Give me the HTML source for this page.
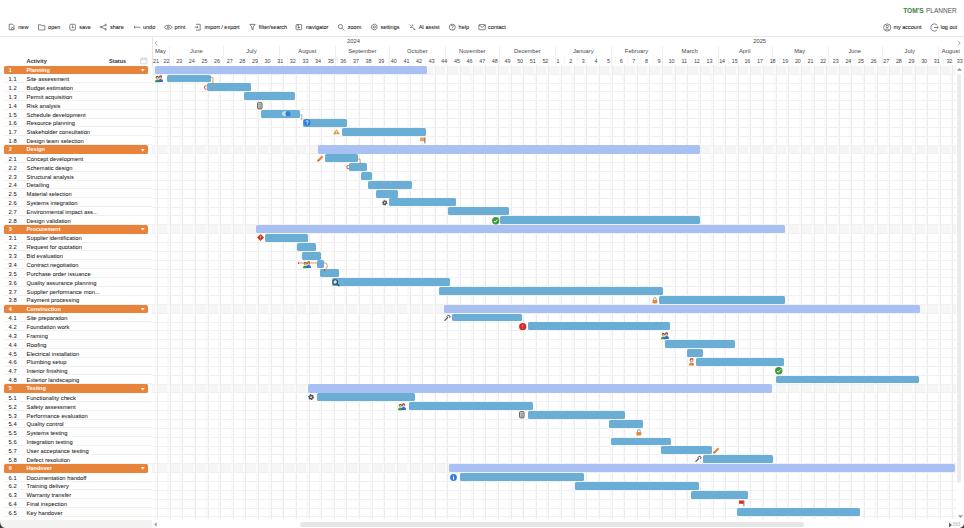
<!DOCTYPE html><html><head><meta charset="utf-8"><style>
*{box-sizing:border-box}
html,body{margin:0;padding:0}
body{width:964px;height:528px;overflow:hidden;background:#fff;position:relative;font-family:'Liberation Sans',sans-serif;color:#333}
.a{position:absolute}
.t{position:absolute;white-space:nowrap}
.tb{font-size:5.5px;color:#1a1a1a;-webkit-text-stroke:0.07px #1a1a1a}
.ln{position:absolute;background:#e9e9e9}
.lt{position:absolute;z-index:2;left:0;width:152px;height:8.853px;line-height:8.853px;font-size:5.8px;color:#1f1f1f;padding-top:0.7px;-webkit-text-stroke:0.06px #1f1f1f}
.num{position:absolute;left:8.6px}
.nm{position:absolute;left:26.6px;white-space:nowrap}
.grp{position:absolute;left:3.8px;width:144.7px;height:8.6px;background:#e8833a;border-radius:1.6px;color:#fff;font-weight:bold;font-size:5.5px;line-height:8.6px}
.sb{position:absolute;height:8.4px;background:#a8c1f2;border-radius:1.6px}
.br{position:absolute;height:7.9px;background:#6aadd5;border-radius:1.5px}
.wk{position:absolute;top:55.6px;height:10px;line-height:10px;font-size:5.4px;color:#444;text-align:center}
.mo{position:absolute;top:46.6px;height:9px;line-height:9px;font-size:5.8px;color:#474747;text-align:center;white-space:nowrap}
.yr{position:absolute;top:37px;height:9px;line-height:9px;font-size:5.8px;color:#474747;text-align:center}
</style></head><body>

<div class="t" style="left:903.2px;top:6.8px;font-size:6.6px;line-height:7px;font-weight:bold;color:#3f7f3f;letter-spacing:0px">TOM'S</div>
<div class="t" style="left:926px;top:6.8px;font-size:6.5px;line-height:7px;color:#555">PLANNER</div>
<div class="t tb" style="left:18.3px;top:23.1px;line-height:8px">new</div>
<div class="t tb" style="left:48.1px;top:23.1px;line-height:8px">open</div>
<div class="t tb" style="left:79.3px;top:23.1px;line-height:8px">save</div>
<div class="t tb" style="left:110.0px;top:23.1px;line-height:8px">share</div>
<div class="t tb" style="left:143.0px;top:23.1px;line-height:8px">undo</div>
<div class="t tb" style="left:174.6px;top:23.1px;line-height:8px">print</div>
<div class="t tb" style="left:204.5px;top:23.1px;line-height:8px">import / export</div>
<div class="t tb" style="left:258.7px;top:23.1px;line-height:8px">filter/search</div>
<div class="t tb" style="left:305.8px;top:23.1px;line-height:8px">navigator</div>
<div class="t tb" style="left:347.8px;top:23.1px;line-height:8px">zoom</div>
<div class="t tb" style="left:380.5px;top:23.1px;line-height:8px">settings</div>
<div class="t tb" style="left:418.7px;top:23.1px;line-height:8px">AI assist</div>
<div class="t tb" style="left:458.6px;top:23.1px;line-height:8px">help</div>
<div class="t tb" style="left:488.1px;top:23.1px;line-height:8px">contact</div>
<div class="t tb" style="left:893.4px;top:23.1px;line-height:8px">my account</div>
<div class="t tb" style="left:940.6px;top:23.1px;line-height:8px">log out</div>
<svg class="a" style="left:0;top:0" width="964" height="36" viewBox="0 0 964 36" fill="none" stroke="#555" stroke-width="0.72">
<path d="M9.2 24.2h3.4l1.4 1.4v4.2h-4.8z"/><circle cx="12.4" cy="28.4" r="1"/>
<path d="M38.5 24.8h2.4l0.8 0.9h3.2v4.2h-6.4z"/>
<rect x="69.8" y="24.3" width="5.6" height="5.8" rx="1"/><path d="M72.6 25.3v2.6M71.6 27l1 1 1-1"/>
<circle cx="101" cy="27.1" r="0.8"/><circle cx="105.6" cy="25" r="0.8"/><circle cx="105.6" cy="29.3" r="0.8"/><path d="M101.7 26.7l3.2-1.4M101.7 27.5l3.2 1.4"/>
<path d="M134 27.2h4.8c1 0 1.4 0.6 1.4 1.2M134 27.2l1.2-1.1M134 27.2l1.2 1.1"/>
<path d="M164.4 27.2c1.6-2.6 6.2-2.6 7.8 0c-1.6 2.6-6.2 2.6-7.8 0z"/><circle cx="168.3" cy="27.2" r="1"/>
<path d="M196 24.3h4.2v5.8H196M194.8 27.2h3.2M197 26.1l1.1 1.1-1.1 1.1"/>
<path d="M249.8 24.4h5.4l-2.1 2.6v2.9l-1.2-0.6v-2.3z"/>
<rect x="296" y="24.5" width="5.6" height="5.2" rx="0.8"/><circle cx="298.6" cy="27.4" r="0.7" fill="#666"/><path d="M296.6 26.2c0.6-0.8 1.6-1 2.2-0.6"/>
<circle cx="340.4" cy="26.6" r="2.1"/><path d="M342 28.2l2.2 2.2"/>
<path d="M374.3 24l2.6 1.5v3l-2.6 1.5-2.6-1.5v-3z"/><circle cx="374.3" cy="27" r="1.1"/>
<path d="M409.6 24.4l5.8 5.8M410 27.6l2 0M412.5 24.6l0.2 1.5M413.6 29.4l1.6 0"/>
<circle cx="452.3" cy="27.2" r="3"/><path d="M451.3 26.2c0-1.4 2.2-1.4 2.1 0c0 0.8-1 0.8-1 1.8"/><circle cx="452.4" cy="29.2" r="0.2"/>
<rect x="478.9" y="24.6" width="6.4" height="5.1" rx="0.5"/><path d="M478.9 25l3.2 2.4 3.2-2.4"/>
<circle cx="887.2" cy="27.5" r="3.6"/><circle cx="887.2" cy="26.5" r="1.2"/><path d="M885 30.2c0.6-1.6 3.8-1.6 4.4 0"/>
<path d="M937.2 25.3a3.6 3.6 0 1 0 0 4.4"/><path d="M934 27.5h4.2M937 26.4l1.2 1.1-1.2 1.1"/>
</svg>
<div class="ln" style="left:0;top:35.6px;width:964px;height:0.8px;background:#e6e6e6"></div>
<div class="t" style="left:26.4px;top:57px;font-size:5.65px;line-height:8px;font-weight:bold;color:#333">Activity</div>
<div class="t" style="left:109.1px;top:57px;font-size:5.6px;line-height:8px;font-weight:bold;color:#333">Status</div>
<svg class="a" style="left:140px;top:56.8px" width="8" height="8" viewBox="0 0 8 8" fill="none" stroke="#bbb" stroke-width="0.6"><rect x="0.7" y="1.2" width="6.2" height="5.6" rx="0.8"/><path d="M0.7 2.8h6.2M2.4 0.5v1.4M5.2 0.5v1.4"/></svg>
<div class="grp" style="top:65.60px"><span style="position:absolute;left:4.9px">1</span><span style="position:absolute;left:22.8px">Planning</span><svg style="position:absolute;left:137.6px;top:3.4px" width="4" height="3" viewBox="0 0 4 3"><path d="M0 0h3.6L1.8 2.6z" fill="#fff"/></svg></div>
<div class="lt" style="top:74.45px"><span class="num">1.1</span><span class="nm">Site assessment</span></div>
<div class="ln" style="left:4px;top:82.21px;width:148px;height:0.7px;background:#f1f1f1"></div>
<div class="lt" style="top:83.31px"><span class="num">1.2</span><span class="nm">Budget estimation</span></div>
<div class="ln" style="left:4px;top:91.06px;width:148px;height:0.7px;background:#f1f1f1"></div>
<div class="lt" style="top:92.16px"><span class="num">1.3</span><span class="nm">Permit acquisition</span></div>
<div class="ln" style="left:4px;top:99.91px;width:148px;height:0.7px;background:#f1f1f1"></div>
<div class="lt" style="top:101.01px"><span class="num">1.4</span><span class="nm">Risk analysis</span></div>
<div class="ln" style="left:4px;top:108.77px;width:148px;height:0.7px;background:#f1f1f1"></div>
<div class="lt" style="top:109.86px"><span class="num">1.5</span><span class="nm">Schedule development</span></div>
<div class="ln" style="left:4px;top:117.62px;width:148px;height:0.7px;background:#f1f1f1"></div>
<div class="lt" style="top:118.72px"><span class="num">1.6</span><span class="nm">Resource planning</span></div>
<div class="ln" style="left:4px;top:126.47px;width:148px;height:0.7px;background:#f1f1f1"></div>
<div class="lt" style="top:127.57px"><span class="num">1.7</span><span class="nm">Stakeholder consultation</span></div>
<div class="ln" style="left:4px;top:135.32px;width:148px;height:0.7px;background:#f1f1f1"></div>
<div class="lt" style="top:136.42px"><span class="num">1.8</span><span class="nm">Design team selection</span></div>
<div class="ln" style="left:4px;top:144.18px;width:148px;height:0.7px;background:#f1f1f1"></div>
<div class="grp" style="top:145.28px"><span style="position:absolute;left:4.9px">2</span><span style="position:absolute;left:22.8px">Design</span><svg style="position:absolute;left:137.6px;top:3.4px" width="4" height="3" viewBox="0 0 4 3"><path d="M0 0h3.6L1.8 2.6z" fill="#fff"/></svg></div>
<div class="lt" style="top:154.13px"><span class="num">2.1</span><span class="nm">Concept development</span></div>
<div class="ln" style="left:4px;top:161.88px;width:148px;height:0.7px;background:#f1f1f1"></div>
<div class="lt" style="top:162.98px"><span class="num">2.2</span><span class="nm">Schematic design</span></div>
<div class="ln" style="left:4px;top:170.74px;width:148px;height:0.7px;background:#f1f1f1"></div>
<div class="lt" style="top:171.84px"><span class="num">2.3</span><span class="nm">Structural analysis</span></div>
<div class="ln" style="left:4px;top:179.59px;width:148px;height:0.7px;background:#f1f1f1"></div>
<div class="lt" style="top:180.69px"><span class="num">2.4</span><span class="nm">Detailing</span></div>
<div class="ln" style="left:4px;top:188.44px;width:148px;height:0.7px;background:#f1f1f1"></div>
<div class="lt" style="top:189.54px"><span class="num">2.5</span><span class="nm">Material selection</span></div>
<div class="ln" style="left:4px;top:197.29px;width:148px;height:0.7px;background:#f1f1f1"></div>
<div class="lt" style="top:198.39px"><span class="num">2.6</span><span class="nm">Systems integration</span></div>
<div class="ln" style="left:4px;top:206.15px;width:148px;height:0.7px;background:#f1f1f1"></div>
<div class="lt" style="top:207.25px"><span class="num">2.7</span><span class="nm">Environmental impact ass...</span></div>
<div class="ln" style="left:4px;top:215.00px;width:148px;height:0.7px;background:#f1f1f1"></div>
<div class="lt" style="top:216.10px"><span class="num">2.8</span><span class="nm">Design validation</span></div>
<div class="ln" style="left:4px;top:223.85px;width:148px;height:0.7px;background:#f1f1f1"></div>
<div class="grp" style="top:224.95px"><span style="position:absolute;left:4.9px">3</span><span style="position:absolute;left:22.8px">Procurement</span><svg style="position:absolute;left:137.6px;top:3.4px" width="4" height="3" viewBox="0 0 4 3"><path d="M0 0h3.6L1.8 2.6z" fill="#fff"/></svg></div>
<div class="lt" style="top:233.81px"><span class="num">3.1</span><span class="nm">Supplier identification</span></div>
<div class="ln" style="left:4px;top:241.56px;width:148px;height:0.7px;background:#f1f1f1"></div>
<div class="lt" style="top:242.66px"><span class="num">3.2</span><span class="nm">Request for quotation</span></div>
<div class="ln" style="left:4px;top:250.41px;width:148px;height:0.7px;background:#f1f1f1"></div>
<div class="lt" style="top:251.51px"><span class="num">3.3</span><span class="nm">Bid evaluation</span></div>
<div class="ln" style="left:4px;top:259.27px;width:148px;height:0.7px;background:#f1f1f1"></div>
<div class="lt" style="top:260.37px"><span class="num">3.4</span><span class="nm">Contract negotiation</span></div>
<div class="ln" style="left:4px;top:268.12px;width:148px;height:0.7px;background:#f1f1f1"></div>
<div class="lt" style="top:269.22px"><span class="num">3.5</span><span class="nm">Purchase order issuance</span></div>
<div class="ln" style="left:4px;top:276.97px;width:148px;height:0.7px;background:#f1f1f1"></div>
<div class="lt" style="top:278.07px"><span class="num">3.6</span><span class="nm">Quality assurance planning</span></div>
<div class="ln" style="left:4px;top:285.82px;width:148px;height:0.7px;background:#f1f1f1"></div>
<div class="lt" style="top:286.92px"><span class="num">3.7</span><span class="nm">Supplier performance mon...</span></div>
<div class="ln" style="left:4px;top:294.68px;width:148px;height:0.7px;background:#f1f1f1"></div>
<div class="lt" style="top:295.78px"><span class="num">3.8</span><span class="nm">Payment processing</span></div>
<div class="ln" style="left:4px;top:303.53px;width:148px;height:0.7px;background:#f1f1f1"></div>
<div class="grp" style="top:304.63px"><span style="position:absolute;left:4.9px">4</span><span style="position:absolute;left:22.8px">Construction</span><svg style="position:absolute;left:137.6px;top:3.4px" width="4" height="3" viewBox="0 0 4 3"><path d="M0 0h3.6L1.8 2.6z" fill="#fff"/></svg></div>
<div class="lt" style="top:313.48px"><span class="num">4.1</span><span class="nm">Site preparation</span></div>
<div class="ln" style="left:4px;top:321.24px;width:148px;height:0.7px;background:#f1f1f1"></div>
<div class="lt" style="top:322.34px"><span class="num">4.2</span><span class="nm">Foundation work</span></div>
<div class="ln" style="left:4px;top:330.09px;width:148px;height:0.7px;background:#f1f1f1"></div>
<div class="lt" style="top:331.19px"><span class="num">4.3</span><span class="nm">Framing</span></div>
<div class="ln" style="left:4px;top:338.94px;width:148px;height:0.7px;background:#f1f1f1"></div>
<div class="lt" style="top:340.04px"><span class="num">4.4</span><span class="nm">Roofing</span></div>
<div class="ln" style="left:4px;top:347.80px;width:148px;height:0.7px;background:#f1f1f1"></div>
<div class="lt" style="top:348.90px"><span class="num">4.5</span><span class="nm">Electrical installation</span></div>
<div class="ln" style="left:4px;top:356.65px;width:148px;height:0.7px;background:#f1f1f1"></div>
<div class="lt" style="top:357.75px"><span class="num">4.6</span><span class="nm">Plumbing setup</span></div>
<div class="ln" style="left:4px;top:365.50px;width:148px;height:0.7px;background:#f1f1f1"></div>
<div class="lt" style="top:366.60px"><span class="num">4.7</span><span class="nm">Interior finishing</span></div>
<div class="ln" style="left:4px;top:374.35px;width:148px;height:0.7px;background:#f1f1f1"></div>
<div class="lt" style="top:375.46px"><span class="num">4.8</span><span class="nm">Exterior landscaping</span></div>
<div class="ln" style="left:4px;top:383.21px;width:148px;height:0.7px;background:#f1f1f1"></div>
<div class="grp" style="top:384.31px"><span style="position:absolute;left:4.9px">5</span><span style="position:absolute;left:22.8px">Testing</span><svg style="position:absolute;left:137.6px;top:3.4px" width="4" height="3" viewBox="0 0 4 3"><path d="M0 0h3.6L1.8 2.6z" fill="#fff"/></svg></div>
<div class="lt" style="top:393.16px"><span class="num">5.1</span><span class="nm">Functionality check</span></div>
<div class="ln" style="left:4px;top:400.91px;width:148px;height:0.7px;background:#f1f1f1"></div>
<div class="lt" style="top:402.01px"><span class="num">5.2</span><span class="nm">Safety assessment</span></div>
<div class="ln" style="left:4px;top:409.77px;width:148px;height:0.7px;background:#f1f1f1"></div>
<div class="lt" style="top:410.87px"><span class="num">5.3</span><span class="nm">Performance evaluation</span></div>
<div class="ln" style="left:4px;top:418.62px;width:148px;height:0.7px;background:#f1f1f1"></div>
<div class="lt" style="top:419.72px"><span class="num">5.4</span><span class="nm">Quality control</span></div>
<div class="ln" style="left:4px;top:427.47px;width:148px;height:0.7px;background:#f1f1f1"></div>
<div class="lt" style="top:428.57px"><span class="num">5.5</span><span class="nm">Systems testing</span></div>
<div class="ln" style="left:4px;top:436.33px;width:148px;height:0.7px;background:#f1f1f1"></div>
<div class="lt" style="top:437.43px"><span class="num">5.6</span><span class="nm">Integration testing</span></div>
<div class="ln" style="left:4px;top:445.18px;width:148px;height:0.7px;background:#f1f1f1"></div>
<div class="lt" style="top:446.28px"><span class="num">5.7</span><span class="nm">User acceptance testing</span></div>
<div class="ln" style="left:4px;top:454.03px;width:148px;height:0.7px;background:#f1f1f1"></div>
<div class="lt" style="top:455.13px"><span class="num">5.8</span><span class="nm">Defect resolution</span></div>
<div class="ln" style="left:4px;top:462.88px;width:148px;height:0.7px;background:#f1f1f1"></div>
<div class="grp" style="top:463.99px"><span style="position:absolute;left:4.9px">6</span><span style="position:absolute;left:22.8px">Handover</span><svg style="position:absolute;left:137.6px;top:3.4px" width="4" height="3" viewBox="0 0 4 3"><path d="M0 0h3.6L1.8 2.6z" fill="#fff"/></svg></div>
<div class="lt" style="top:472.84px"><span class="num">6.1</span><span class="nm">Documentation handoff</span></div>
<div class="ln" style="left:4px;top:480.59px;width:148px;height:0.7px;background:#f1f1f1"></div>
<div class="lt" style="top:481.69px"><span class="num">6.2</span><span class="nm">Training delivery</span></div>
<div class="ln" style="left:4px;top:489.44px;width:148px;height:0.7px;background:#f1f1f1"></div>
<div class="lt" style="top:490.54px"><span class="num">6.3</span><span class="nm">Warranty transfer</span></div>
<div class="ln" style="left:4px;top:498.30px;width:148px;height:0.7px;background:#f1f1f1"></div>
<div class="lt" style="top:499.40px"><span class="num">6.4</span><span class="nm">Final inspection</span></div>
<div class="ln" style="left:4px;top:507.15px;width:148px;height:0.7px;background:#f1f1f1"></div>
<div class="lt" style="top:508.25px"><span class="num">6.5</span><span class="nm">Key handover</span></div>
<div class="ln" style="left:4px;top:516.00px;width:148px;height:0.7px;background:#f1f1f1"></div>
<div class="a" style="left:151.6px;top:65.60px;width:804.4px;height:8.853px;background:#f5f5f5"></div>
<div class="a" style="left:151.6px;top:145.28px;width:804.4px;height:8.853px;background:#f5f5f5"></div>
<div class="a" style="left:151.6px;top:224.95px;width:804.4px;height:8.853px;background:#f5f5f5"></div>
<div class="a" style="left:151.6px;top:304.63px;width:804.4px;height:8.853px;background:#f5f5f5"></div>
<div class="a" style="left:151.6px;top:384.31px;width:804.4px;height:8.853px;background:#f5f5f5"></div>
<div class="a" style="left:151.6px;top:463.99px;width:804.4px;height:8.853px;background:#f5f5f5"></div>
<div class="a" style="left:0;top:0;width:964px;height:528px;">
<div class="a" style="left:154.82px;top:65.19999999999999px;width:2.60px;height:453.80px;background:#fafafa"></div>
<div class="a" style="left:157.02px;top:65.19999999999999px;width:1.1px;height:453.80px;background:#ececec"></div>
<div class="a" style="left:167.45px;top:65.19999999999999px;width:2.60px;height:453.80px;background:#fafafa"></div>
<div class="a" style="left:169.65px;top:65.19999999999999px;width:1.1px;height:453.80px;background:#ececec"></div>
<div class="a" style="left:180.07px;top:65.19999999999999px;width:2.60px;height:453.80px;background:#fafafa"></div>
<div class="a" style="left:182.27px;top:65.19999999999999px;width:1.1px;height:453.80px;background:#ececec"></div>
<div class="a" style="left:192.70px;top:65.19999999999999px;width:2.60px;height:453.80px;background:#fafafa"></div>
<div class="a" style="left:194.90px;top:65.19999999999999px;width:1.1px;height:453.80px;background:#ececec"></div>
<div class="a" style="left:205.32px;top:65.19999999999999px;width:2.60px;height:453.80px;background:#fafafa"></div>
<div class="a" style="left:207.52px;top:65.19999999999999px;width:1.1px;height:453.80px;background:#ececec"></div>
<div class="a" style="left:217.95px;top:65.19999999999999px;width:2.60px;height:453.80px;background:#fafafa"></div>
<div class="a" style="left:220.15px;top:65.19999999999999px;width:1.1px;height:453.80px;background:#ececec"></div>
<div class="a" style="left:230.57px;top:65.19999999999999px;width:2.60px;height:453.80px;background:#fafafa"></div>
<div class="a" style="left:232.77px;top:65.19999999999999px;width:1.1px;height:453.80px;background:#ececec"></div>
<div class="a" style="left:243.20px;top:65.19999999999999px;width:2.60px;height:453.80px;background:#fafafa"></div>
<div class="a" style="left:245.40px;top:65.19999999999999px;width:1.1px;height:453.80px;background:#ececec"></div>
<div class="a" style="left:255.83px;top:65.19999999999999px;width:2.60px;height:453.80px;background:#fafafa"></div>
<div class="a" style="left:258.03px;top:65.19999999999999px;width:1.1px;height:453.80px;background:#ececec"></div>
<div class="a" style="left:268.45px;top:65.19999999999999px;width:2.60px;height:453.80px;background:#fafafa"></div>
<div class="a" style="left:270.65px;top:65.19999999999999px;width:1.1px;height:453.80px;background:#ececec"></div>
<div class="a" style="left:281.07px;top:65.19999999999999px;width:2.60px;height:453.80px;background:#fafafa"></div>
<div class="a" style="left:283.28px;top:65.19999999999999px;width:1.1px;height:453.80px;background:#ececec"></div>
<div class="a" style="left:293.70px;top:65.19999999999999px;width:2.60px;height:453.80px;background:#fafafa"></div>
<div class="a" style="left:295.90px;top:65.19999999999999px;width:1.1px;height:453.80px;background:#ececec"></div>
<div class="a" style="left:306.32px;top:65.19999999999999px;width:2.60px;height:453.80px;background:#fafafa"></div>
<div class="a" style="left:308.53px;top:65.19999999999999px;width:1.1px;height:453.80px;background:#ececec"></div>
<div class="a" style="left:318.95px;top:65.19999999999999px;width:2.60px;height:453.80px;background:#fafafa"></div>
<div class="a" style="left:321.15px;top:65.19999999999999px;width:1.1px;height:453.80px;background:#ececec"></div>
<div class="a" style="left:331.57px;top:65.19999999999999px;width:2.60px;height:453.80px;background:#fafafa"></div>
<div class="a" style="left:333.78px;top:65.19999999999999px;width:1.1px;height:453.80px;background:#ececec"></div>
<div class="a" style="left:344.20px;top:65.19999999999999px;width:2.60px;height:453.80px;background:#fafafa"></div>
<div class="a" style="left:346.40px;top:65.19999999999999px;width:1.1px;height:453.80px;background:#ececec"></div>
<div class="a" style="left:356.82px;top:65.19999999999999px;width:2.60px;height:453.80px;background:#fafafa"></div>
<div class="a" style="left:359.03px;top:65.19999999999999px;width:1.1px;height:453.80px;background:#ececec"></div>
<div class="a" style="left:369.45px;top:65.19999999999999px;width:2.60px;height:453.80px;background:#fafafa"></div>
<div class="a" style="left:371.65px;top:65.19999999999999px;width:1.1px;height:453.80px;background:#ececec"></div>
<div class="a" style="left:382.07px;top:65.19999999999999px;width:2.60px;height:453.80px;background:#fafafa"></div>
<div class="a" style="left:384.28px;top:65.19999999999999px;width:1.1px;height:453.80px;background:#ececec"></div>
<div class="a" style="left:394.70px;top:65.19999999999999px;width:2.60px;height:453.80px;background:#fafafa"></div>
<div class="a" style="left:396.90px;top:65.19999999999999px;width:1.1px;height:453.80px;background:#ececec"></div>
<div class="a" style="left:407.32px;top:65.19999999999999px;width:2.60px;height:453.80px;background:#fafafa"></div>
<div class="a" style="left:409.53px;top:65.19999999999999px;width:1.1px;height:453.80px;background:#ececec"></div>
<div class="a" style="left:419.95px;top:65.19999999999999px;width:2.60px;height:453.80px;background:#fafafa"></div>
<div class="a" style="left:422.15px;top:65.19999999999999px;width:1.1px;height:453.80px;background:#ececec"></div>
<div class="a" style="left:432.57px;top:65.19999999999999px;width:2.60px;height:453.80px;background:#fafafa"></div>
<div class="a" style="left:434.78px;top:65.19999999999999px;width:1.1px;height:453.80px;background:#ececec"></div>
<div class="a" style="left:445.20px;top:65.19999999999999px;width:2.60px;height:453.80px;background:#fafafa"></div>
<div class="a" style="left:447.40px;top:65.19999999999999px;width:1.1px;height:453.80px;background:#ececec"></div>
<div class="a" style="left:457.82px;top:65.19999999999999px;width:2.60px;height:453.80px;background:#fafafa"></div>
<div class="a" style="left:460.03px;top:65.19999999999999px;width:1.1px;height:453.80px;background:#ececec"></div>
<div class="a" style="left:470.45px;top:65.19999999999999px;width:2.60px;height:453.80px;background:#fafafa"></div>
<div class="a" style="left:472.65px;top:65.19999999999999px;width:1.1px;height:453.80px;background:#ececec"></div>
<div class="a" style="left:483.07px;top:65.19999999999999px;width:2.60px;height:453.80px;background:#fafafa"></div>
<div class="a" style="left:485.28px;top:65.19999999999999px;width:1.1px;height:453.80px;background:#ececec"></div>
<div class="a" style="left:495.70px;top:65.19999999999999px;width:2.60px;height:453.80px;background:#fafafa"></div>
<div class="a" style="left:497.90px;top:65.19999999999999px;width:1.1px;height:453.80px;background:#ececec"></div>
<div class="a" style="left:508.33px;top:65.19999999999999px;width:2.60px;height:453.80px;background:#fafafa"></div>
<div class="a" style="left:510.53px;top:65.19999999999999px;width:1.1px;height:453.80px;background:#ececec"></div>
<div class="a" style="left:520.95px;top:65.19999999999999px;width:2.60px;height:453.80px;background:#fafafa"></div>
<div class="a" style="left:523.15px;top:65.19999999999999px;width:1.1px;height:453.80px;background:#ececec"></div>
<div class="a" style="left:533.58px;top:65.19999999999999px;width:2.60px;height:453.80px;background:#fafafa"></div>
<div class="a" style="left:535.78px;top:65.19999999999999px;width:1.1px;height:453.80px;background:#ececec"></div>
<div class="a" style="left:546.20px;top:65.19999999999999px;width:2.60px;height:453.80px;background:#fafafa"></div>
<div class="a" style="left:548.40px;top:65.19999999999999px;width:1.1px;height:453.80px;background:#ececec"></div>
<div class="a" style="left:558.83px;top:65.19999999999999px;width:2.60px;height:453.80px;background:#fafafa"></div>
<div class="a" style="left:561.03px;top:65.19999999999999px;width:1.1px;height:453.80px;background:#ececec"></div>
<div class="a" style="left:571.45px;top:65.19999999999999px;width:2.60px;height:453.80px;background:#fafafa"></div>
<div class="a" style="left:573.65px;top:65.19999999999999px;width:1.1px;height:453.80px;background:#ececec"></div>
<div class="a" style="left:584.08px;top:65.19999999999999px;width:2.60px;height:453.80px;background:#fafafa"></div>
<div class="a" style="left:586.28px;top:65.19999999999999px;width:1.1px;height:453.80px;background:#ececec"></div>
<div class="a" style="left:596.70px;top:65.19999999999999px;width:2.60px;height:453.80px;background:#fafafa"></div>
<div class="a" style="left:598.90px;top:65.19999999999999px;width:1.1px;height:453.80px;background:#ececec"></div>
<div class="a" style="left:609.33px;top:65.19999999999999px;width:2.60px;height:453.80px;background:#fafafa"></div>
<div class="a" style="left:611.53px;top:65.19999999999999px;width:1.1px;height:453.80px;background:#ececec"></div>
<div class="a" style="left:621.95px;top:65.19999999999999px;width:2.60px;height:453.80px;background:#fafafa"></div>
<div class="a" style="left:624.15px;top:65.19999999999999px;width:1.1px;height:453.80px;background:#ececec"></div>
<div class="a" style="left:634.58px;top:65.19999999999999px;width:2.60px;height:453.80px;background:#fafafa"></div>
<div class="a" style="left:636.78px;top:65.19999999999999px;width:1.1px;height:453.80px;background:#ececec"></div>
<div class="a" style="left:647.20px;top:65.19999999999999px;width:2.60px;height:453.80px;background:#fafafa"></div>
<div class="a" style="left:649.40px;top:65.19999999999999px;width:1.1px;height:453.80px;background:#ececec"></div>
<div class="a" style="left:659.83px;top:65.19999999999999px;width:2.60px;height:453.80px;background:#fafafa"></div>
<div class="a" style="left:662.03px;top:65.19999999999999px;width:1.1px;height:453.80px;background:#ececec"></div>
<div class="a" style="left:672.45px;top:65.19999999999999px;width:2.60px;height:453.80px;background:#fafafa"></div>
<div class="a" style="left:674.65px;top:65.19999999999999px;width:1.1px;height:453.80px;background:#ececec"></div>
<div class="a" style="left:685.08px;top:65.19999999999999px;width:2.60px;height:453.80px;background:#fafafa"></div>
<div class="a" style="left:687.28px;top:65.19999999999999px;width:1.1px;height:453.80px;background:#ececec"></div>
<div class="a" style="left:697.70px;top:65.19999999999999px;width:2.60px;height:453.80px;background:#fafafa"></div>
<div class="a" style="left:699.90px;top:65.19999999999999px;width:1.1px;height:453.80px;background:#ececec"></div>
<div class="a" style="left:710.33px;top:65.19999999999999px;width:2.60px;height:453.80px;background:#fafafa"></div>
<div class="a" style="left:712.53px;top:65.19999999999999px;width:1.1px;height:453.80px;background:#ececec"></div>
<div class="a" style="left:722.95px;top:65.19999999999999px;width:2.60px;height:453.80px;background:#fafafa"></div>
<div class="a" style="left:725.15px;top:65.19999999999999px;width:1.1px;height:453.80px;background:#ececec"></div>
<div class="a" style="left:735.58px;top:65.19999999999999px;width:2.60px;height:453.80px;background:#fafafa"></div>
<div class="a" style="left:737.78px;top:65.19999999999999px;width:1.1px;height:453.80px;background:#ececec"></div>
<div class="a" style="left:748.20px;top:65.19999999999999px;width:2.60px;height:453.80px;background:#fafafa"></div>
<div class="a" style="left:750.40px;top:65.19999999999999px;width:1.1px;height:453.80px;background:#ececec"></div>
<div class="a" style="left:760.83px;top:65.19999999999999px;width:2.60px;height:453.80px;background:#fafafa"></div>
<div class="a" style="left:763.03px;top:65.19999999999999px;width:1.1px;height:453.80px;background:#ececec"></div>
<div class="a" style="left:773.45px;top:65.19999999999999px;width:2.60px;height:453.80px;background:#fafafa"></div>
<div class="a" style="left:775.65px;top:65.19999999999999px;width:1.1px;height:453.80px;background:#ececec"></div>
<div class="a" style="left:786.08px;top:65.19999999999999px;width:2.60px;height:453.80px;background:#fafafa"></div>
<div class="a" style="left:788.28px;top:65.19999999999999px;width:1.1px;height:453.80px;background:#ececec"></div>
<div class="a" style="left:798.70px;top:65.19999999999999px;width:2.60px;height:453.80px;background:#fafafa"></div>
<div class="a" style="left:800.90px;top:65.19999999999999px;width:1.1px;height:453.80px;background:#ececec"></div>
<div class="a" style="left:811.33px;top:65.19999999999999px;width:2.60px;height:453.80px;background:#fafafa"></div>
<div class="a" style="left:813.53px;top:65.19999999999999px;width:1.1px;height:453.80px;background:#ececec"></div>
<div class="a" style="left:823.95px;top:65.19999999999999px;width:2.60px;height:453.80px;background:#fafafa"></div>
<div class="a" style="left:826.15px;top:65.19999999999999px;width:1.1px;height:453.80px;background:#ececec"></div>
<div class="a" style="left:836.58px;top:65.19999999999999px;width:2.60px;height:453.80px;background:#fafafa"></div>
<div class="a" style="left:838.78px;top:65.19999999999999px;width:1.1px;height:453.80px;background:#ececec"></div>
<div class="a" style="left:849.20px;top:65.19999999999999px;width:2.60px;height:453.80px;background:#fafafa"></div>
<div class="a" style="left:851.40px;top:65.19999999999999px;width:1.1px;height:453.80px;background:#ececec"></div>
<div class="a" style="left:861.83px;top:65.19999999999999px;width:2.60px;height:453.80px;background:#fafafa"></div>
<div class="a" style="left:864.03px;top:65.19999999999999px;width:1.1px;height:453.80px;background:#ececec"></div>
<div class="a" style="left:874.45px;top:65.19999999999999px;width:2.60px;height:453.80px;background:#fafafa"></div>
<div class="a" style="left:876.65px;top:65.19999999999999px;width:1.1px;height:453.80px;background:#ececec"></div>
<div class="a" style="left:887.08px;top:65.19999999999999px;width:2.60px;height:453.80px;background:#fafafa"></div>
<div class="a" style="left:889.28px;top:65.19999999999999px;width:1.1px;height:453.80px;background:#ececec"></div>
<div class="a" style="left:899.70px;top:65.19999999999999px;width:2.60px;height:453.80px;background:#fafafa"></div>
<div class="a" style="left:901.90px;top:65.19999999999999px;width:1.1px;height:453.80px;background:#ececec"></div>
<div class="a" style="left:912.33px;top:65.19999999999999px;width:2.60px;height:453.80px;background:#fafafa"></div>
<div class="a" style="left:914.53px;top:65.19999999999999px;width:1.1px;height:453.80px;background:#ececec"></div>
<div class="a" style="left:924.95px;top:65.19999999999999px;width:2.60px;height:453.80px;background:#fafafa"></div>
<div class="a" style="left:927.15px;top:65.19999999999999px;width:1.1px;height:453.80px;background:#ececec"></div>
<div class="a" style="left:937.58px;top:65.19999999999999px;width:2.60px;height:453.80px;background:#fafafa"></div>
<div class="a" style="left:939.78px;top:65.19999999999999px;width:1.1px;height:453.80px;background:#ececec"></div>
<div class="a" style="left:950.20px;top:65.19999999999999px;width:2.60px;height:453.80px;background:#fafafa"></div>
<div class="a" style="left:952.40px;top:65.19999999999999px;width:1.1px;height:453.80px;background:#ececec"></div>
<div class="a" style="left:151.6px;top:73.75px;width:804.4px;height:1.0px;background:#f1f1f1"></div>
<div class="a" style="left:151.6px;top:82.61px;width:804.4px;height:1.0px;background:#f1f1f1"></div>
<div class="a" style="left:151.6px;top:91.46px;width:804.4px;height:1.0px;background:#f1f1f1"></div>
<div class="a" style="left:151.6px;top:100.31px;width:804.4px;height:1.0px;background:#f1f1f1"></div>
<div class="a" style="left:151.6px;top:109.16px;width:804.4px;height:1.0px;background:#f1f1f1"></div>
<div class="a" style="left:151.6px;top:118.02px;width:804.4px;height:1.0px;background:#f1f1f1"></div>
<div class="a" style="left:151.6px;top:126.87px;width:804.4px;height:1.0px;background:#f1f1f1"></div>
<div class="a" style="left:151.6px;top:135.72px;width:804.4px;height:1.0px;background:#f1f1f1"></div>
<div class="a" style="left:151.6px;top:144.58px;width:804.4px;height:1.0px;background:#f1f1f1"></div>
<div class="a" style="left:151.6px;top:153.43px;width:804.4px;height:1.0px;background:#f1f1f1"></div>
<div class="a" style="left:151.6px;top:162.28px;width:804.4px;height:1.0px;background:#f1f1f1"></div>
<div class="a" style="left:151.6px;top:171.14px;width:804.4px;height:1.0px;background:#f1f1f1"></div>
<div class="a" style="left:151.6px;top:179.99px;width:804.4px;height:1.0px;background:#f1f1f1"></div>
<div class="a" style="left:151.6px;top:188.84px;width:804.4px;height:1.0px;background:#f1f1f1"></div>
<div class="a" style="left:151.6px;top:197.69px;width:804.4px;height:1.0px;background:#f1f1f1"></div>
<div class="a" style="left:151.6px;top:206.55px;width:804.4px;height:1.0px;background:#f1f1f1"></div>
<div class="a" style="left:151.6px;top:215.40px;width:804.4px;height:1.0px;background:#f1f1f1"></div>
<div class="a" style="left:151.6px;top:224.25px;width:804.4px;height:1.0px;background:#f1f1f1"></div>
<div class="a" style="left:151.6px;top:233.11px;width:804.4px;height:1.0px;background:#f1f1f1"></div>
<div class="a" style="left:151.6px;top:241.96px;width:804.4px;height:1.0px;background:#f1f1f1"></div>
<div class="a" style="left:151.6px;top:250.81px;width:804.4px;height:1.0px;background:#f1f1f1"></div>
<div class="a" style="left:151.6px;top:259.67px;width:804.4px;height:1.0px;background:#f1f1f1"></div>
<div class="a" style="left:151.6px;top:268.52px;width:804.4px;height:1.0px;background:#f1f1f1"></div>
<div class="a" style="left:151.6px;top:277.37px;width:804.4px;height:1.0px;background:#f1f1f1"></div>
<div class="a" style="left:151.6px;top:286.22px;width:804.4px;height:1.0px;background:#f1f1f1"></div>
<div class="a" style="left:151.6px;top:295.08px;width:804.4px;height:1.0px;background:#f1f1f1"></div>
<div class="a" style="left:151.6px;top:303.93px;width:804.4px;height:1.0px;background:#f1f1f1"></div>
<div class="a" style="left:151.6px;top:312.78px;width:804.4px;height:1.0px;background:#f1f1f1"></div>
<div class="a" style="left:151.6px;top:321.64px;width:804.4px;height:1.0px;background:#f1f1f1"></div>
<div class="a" style="left:151.6px;top:330.49px;width:804.4px;height:1.0px;background:#f1f1f1"></div>
<div class="a" style="left:151.6px;top:339.34px;width:804.4px;height:1.0px;background:#f1f1f1"></div>
<div class="a" style="left:151.6px;top:348.20px;width:804.4px;height:1.0px;background:#f1f1f1"></div>
<div class="a" style="left:151.6px;top:357.05px;width:804.4px;height:1.0px;background:#f1f1f1"></div>
<div class="a" style="left:151.6px;top:365.90px;width:804.4px;height:1.0px;background:#f1f1f1"></div>
<div class="a" style="left:151.6px;top:374.76px;width:804.4px;height:1.0px;background:#f1f1f1"></div>
<div class="a" style="left:151.6px;top:383.61px;width:804.4px;height:1.0px;background:#f1f1f1"></div>
<div class="a" style="left:151.6px;top:392.46px;width:804.4px;height:1.0px;background:#f1f1f1"></div>
<div class="a" style="left:151.6px;top:401.31px;width:804.4px;height:1.0px;background:#f1f1f1"></div>
<div class="a" style="left:151.6px;top:410.17px;width:804.4px;height:1.0px;background:#f1f1f1"></div>
<div class="a" style="left:151.6px;top:419.02px;width:804.4px;height:1.0px;background:#f1f1f1"></div>
<div class="a" style="left:151.6px;top:427.87px;width:804.4px;height:1.0px;background:#f1f1f1"></div>
<div class="a" style="left:151.6px;top:436.73px;width:804.4px;height:1.0px;background:#f1f1f1"></div>
<div class="a" style="left:151.6px;top:445.58px;width:804.4px;height:1.0px;background:#f1f1f1"></div>
<div class="a" style="left:151.6px;top:454.43px;width:804.4px;height:1.0px;background:#f1f1f1"></div>
<div class="a" style="left:151.6px;top:463.29px;width:804.4px;height:1.0px;background:#f1f1f1"></div>
<div class="a" style="left:151.6px;top:472.14px;width:804.4px;height:1.0px;background:#f1f1f1"></div>
<div class="a" style="left:151.6px;top:480.99px;width:804.4px;height:1.0px;background:#f1f1f1"></div>
<div class="a" style="left:151.6px;top:489.84px;width:804.4px;height:1.0px;background:#f1f1f1"></div>
<div class="a" style="left:151.6px;top:498.70px;width:804.4px;height:1.0px;background:#f1f1f1"></div>
<div class="a" style="left:151.6px;top:507.55px;width:804.4px;height:1.0px;background:#f1f1f1"></div>
<div class="a" style="left:151.6px;top:516.40px;width:804.4px;height:1.0px;background:#f1f1f1"></div>
</div>
<div class="sb" style="left:154.7px;top:65.70px;width:272.80px"></div>
<div class="sb" style="left:317.5px;top:145.38px;width:382.30px"></div>
<div class="sb" style="left:256.2px;top:225.05px;width:529.20px"></div>
<div class="sb" style="left:444.0px;top:304.73px;width:475.70px"></div>
<div class="sb" style="left:308.2px;top:384.41px;width:464.10px"></div>
<div class="sb" style="left:449.3px;top:464.09px;width:505.60px"></div>
<div class="br" style="left:167.1px;top:74.55px;width:43.60px"></div>
<div class="br" style="left:207.0px;top:83.41px;width:43.50px"></div>
<div class="br" style="left:244.3px;top:92.26px;width:50.40px"></div>
<div class="br" style="left:260.9px;top:109.96px;width:39.60px"></div>
<div class="br" style="left:302.5px;top:118.82px;width:44.50px"></div>
<div class="br" style="left:342.1px;top:127.67px;width:84.20px"></div>
<div class="br" style="left:325.1px;top:154.23px;width:32.90px"></div>
<div class="br" style="left:349.1px;top:163.08px;width:17.80px"></div>
<div class="br" style="left:360.7px;top:171.94px;width:11.60px"></div>
<div class="br" style="left:368.2px;top:180.79px;width:43.70px"></div>
<div class="br" style="left:375.5px;top:189.64px;width:22.40px"></div>
<div class="br" style="left:389.0px;top:198.49px;width:66.90px"></div>
<div class="br" style="left:447.5px;top:207.35px;width:61.00px"></div>
<div class="br" style="left:500.1px;top:216.20px;width:200.40px"></div>
<div class="br" style="left:264.8px;top:233.91px;width:43.20px"></div>
<div class="br" style="left:297.2px;top:242.76px;width:18.80px"></div>
<div class="br" style="left:301.5px;top:251.61px;width:19.40px"></div>
<div class="br" style="left:316.9px;top:260.47px;width:7.20px"></div>
<div class="br" style="left:319.6px;top:269.32px;width:19.40px"></div>
<div class="br" style="left:332.2px;top:278.17px;width:117.60px"></div>
<div class="br" style="left:438.8px;top:287.02px;width:224.40px"></div>
<div class="br" style="left:659.3px;top:295.88px;width:125.40px"></div>
<div class="br" style="left:451.8px;top:313.58px;width:70.10px"></div>
<div class="br" style="left:528.0px;top:322.44px;width:142.20px"></div>
<div class="br" style="left:665.2px;top:340.14px;width:69.90px"></div>
<div class="br" style="left:687.0px;top:349.00px;width:16.20px"></div>
<div class="br" style="left:695.5px;top:357.85px;width:88.40px"></div>
<div class="br" style="left:776.1px;top:375.56px;width:142.90px"></div>
<div class="br" style="left:317.2px;top:393.26px;width:98.30px"></div>
<div class="br" style="left:409.0px;top:402.11px;width:123.80px"></div>
<div class="br" style="left:528.0px;top:410.97px;width:97.10px"></div>
<div class="br" style="left:608.9px;top:419.82px;width:34.30px"></div>
<div class="br" style="left:611.1px;top:437.53px;width:60.10px"></div>
<div class="br" style="left:661.2px;top:446.38px;width:50.40px"></div>
<div class="br" style="left:703.0px;top:455.23px;width:70.00px"></div>
<div class="br" style="left:460.2px;top:472.94px;width:123.90px"></div>
<div class="br" style="left:574.8px;top:481.79px;width:124.00px"></div>
<div class="br" style="left:691.2px;top:490.64px;width:57.20px"></div>
<div class="br" style="left:736.6px;top:508.35px;width:123.70px"></div>
<svg class="a" style="left:155.20px;top:75.05px;overflow:visible" width="8" height="7.2" viewBox="0 0 8 7.2"><circle cx="2.3" cy="2.4" r="1.5" fill="#5a4030"/><circle cx="2.3" cy="3" r="1" fill="#f0c090"/><path d="M0 7.2c0-2.2 1-2.8 2.3-2.8s2.3 0.6 2.3 2.8z" fill="#3e9a3e"/><circle cx="5.6" cy="1.9" r="1.6" fill="#6a3a2a"/><circle cx="5.6" cy="2.6" r="1.1" fill="#f4b8a0"/><path d="M3.2 7c0-2.4 1.1-3 2.4-3s2.4 0.6 2.4 3z" fill="#3566c8"/></svg>
<svg class="a" style="left:256.90px;top:101.51px;overflow:visible" width="5.6" height="7.3" viewBox="0 0 5.6 7.3"><rect x="0.5" y="0.6" width="4.6" height="6.3" rx="1" fill="#c8c8c8" stroke="#5a5a5a" stroke-width="0.9"/><path d="M1.6 2.6h2.4M1.6 4.1h2.4M1.6 5.5h2.4" stroke="#777" stroke-width="0.6"/></svg>
<svg class="a" style="left:281.80px;top:111.36px;overflow:visible" width="9" height="5.4" viewBox="0 0 9 5.4"><rect x="0" y="0.3" width="8.6" height="4.8" rx="2.4" fill="#dfeaf5" opacity="0.8"/><circle cx="6.1" cy="2.7" r="2.6" fill="#2f7fd8"/></svg>
<svg class="a" style="left:303.40px;top:119.32px;overflow:visible" width="8" height="7.2" viewBox="0 0 8 7.2"><circle cx="4" cy="3.6" r="3.6" fill="#2f7fd8"/><path d="M2.9 2.8c0-1.5 2.3-1.5 2.3 0c0 0.9-1.1 0.9-1.1 1.9" fill="none" stroke="#fff" stroke-width="0.8"/><circle cx="4.1" cy="5.7" r="0.45" fill="#fff"/></svg>
<svg class="a" style="left:333.00px;top:128.77px;overflow:visible" width="7" height="5.4" viewBox="0 0 7 5.4"><path d="M3.5 0.2L6.9 5.3H0.1z" fill="#e8943a"/><path d="M3.5 1.8v1.8" stroke="#fff" stroke-width="0.7"/><circle cx="3.5" cy="4.4" r="0.35" fill="#fff"/></svg>
<svg class="a" style="left:419.50px;top:137.22px;overflow:visible" width="5.6" height="6.6" viewBox="0 0 5.6 6.6"><path d="M0.1 0.5h4.6v3.6H0.1z" fill="#eba456"/><path d="M4.9 0.4v6" stroke="#555" stroke-width="0.9"/></svg>
<svg class="a" style="left:317.00px;top:154.93px;overflow:visible" width="6.8" height="6.8" viewBox="0 0 6.8 6.8"><path d="M0.3 6.5L0.9 4.4 4.9 0.4 6.4 1.9 2.4 5.9z" fill="#e8843a"/><path d="M0.3 6.5L0.9 4.4 2.4 5.9z" fill="#9a5a2a"/></svg>
<svg class="a" style="left:381.90px;top:199.79px;overflow:visible" width="5.6" height="5.6" viewBox="0 0 5.6 5.6"><polygon points="5.52,3.16 5.34,3.85 4.49,4.10 4.10,4.49 3.85,5.34 3.16,5.52 2.52,4.91 1.99,4.77 1.13,4.98 0.62,4.47 0.83,3.61 0.69,3.08 0.08,2.44 0.26,1.75 1.11,1.50 1.50,1.11 1.75,0.26 2.44,0.08 3.08,0.69 3.61,0.83 4.47,0.62 4.98,1.13 4.77,1.99 4.91,2.52" fill="#555"/><circle cx="2.8" cy="2.8" r="0.78" fill="#fff"/></svg>
<svg class="a" style="left:492.20px;top:216.60px;overflow:visible" width="7.5" height="7.5" viewBox="0 0 7.5 7.5"><circle cx="3.75" cy="3.75" r="3.7" fill="#3c9a3c"/><path d="M1.9 3.9l1.3 1.3 2.5-2.6" fill="none" stroke="#fff" stroke-width="1"/></svg>
<svg class="a" style="left:256.80px;top:234.41px;overflow:visible" width="7.2" height="7.2" viewBox="0 0 7.2 7.2"><path d="M3.6 0.1L7.1 3.6 3.6 7.1 0.1 3.6z" fill="#d3361e"/><path d="M3.6 1.8v2.2" stroke="#ffb070" stroke-width="0.9"/><circle cx="3.6" cy="5.1" r="0.45" fill="#ffb070"/></svg>
<svg class="a" style="left:302.50px;top:260.97px;overflow:visible" width="8" height="7.2" viewBox="0 0 8 7.2"><circle cx="2.3" cy="2.4" r="1.5" fill="#5a4030"/><circle cx="2.3" cy="3" r="1" fill="#f0c090"/><path d="M0 7.2c0-2.2 1-2.8 2.3-2.8s2.3 0.6 2.3 2.8z" fill="#3e9a3e"/><circle cx="5.6" cy="1.9" r="1.6" fill="#6a3a2a"/><circle cx="5.6" cy="2.6" r="1.1" fill="#f4b8a0"/><path d="M3.2 7c0-2.4 1.1-3 2.4-3s2.4 0.6 2.4 3z" fill="#3566c8"/></svg>
<svg class="a" style="left:332.40px;top:278.77px;overflow:visible" width="7.4" height="7.2" viewBox="0 0 7.4 7.2"><circle cx="3.2" cy="3.1" r="2.3" fill="#cfe6f5" stroke="#2e4d66" stroke-width="1.1"/><path d="M4.9 4.8l2 2" stroke="#2e4d66" stroke-width="1.3" stroke-linecap="round"/></svg>
<svg class="a" style="left:652.00px;top:296.68px;overflow:visible" width="5.8" height="6.4" viewBox="0 0 5.8 6.4"><path d="M1.6 3V1.9a1.3 1.3 0 0 1 2.6 0V3" fill="none" stroke="#8a8a8a" stroke-width="0.8"/><rect x="0.4" y="2.9" width="5" height="3.5" rx="0.8" fill="#e08a3a"/></svg>
<svg class="a" style="left:444.40px;top:314.68px;overflow:visible" width="6" height="6" viewBox="0 0 6 6"><path d="M0.8 5.4L3.6 2.6" stroke="#555" stroke-width="1.3" stroke-linecap="round"/><path d="M3.2 2.4a1.5 1.5 0 1 1 2.2 0.6" fill="none" stroke="#555" stroke-width="1"/></svg>
<svg class="a" style="left:518.80px;top:322.84px;overflow:visible" width="7.4" height="7.4" viewBox="0 0 7.4 7.4"><circle cx="3.7" cy="3.7" r="3.6" fill="#d8281e"/><path d="M3.7 1.8v2.4" stroke="#f6a0a0" stroke-width="0.9"/><circle cx="3.7" cy="5.4" r="0.45" fill="#f6a0a0"/></svg>
<svg class="a" style="left:661.00px;top:331.79px;overflow:visible" width="8" height="7.2" viewBox="0 0 8 7.2"><circle cx="2.3" cy="2.4" r="1.5" fill="#5a4030"/><circle cx="2.3" cy="3" r="1" fill="#f0c090"/><path d="M0 7.2c0-2.2 1-2.8 2.3-2.8s2.3 0.6 2.3 2.8z" fill="#3e9a3e"/><circle cx="5.6" cy="1.9" r="1.6" fill="#6a3a2a"/><circle cx="5.6" cy="2.6" r="1.1" fill="#f4b8a0"/><path d="M3.2 7c0-2.4 1.1-3 2.4-3s2.4 0.6 2.4 3z" fill="#3566c8"/></svg>
<svg class="a" style="left:689.20px;top:358.15px;overflow:visible" width="5.2" height="7.6" viewBox="0 0 5.2 7.6"><circle cx="2.6" cy="2.1" r="2" fill="#c0502a"/><circle cx="2.6" cy="2.6" r="1.1" fill="#fde8d8"/><path d="M0.1 7.6c0-2.4 1.1-3 2.5-3s2.5 0.6 2.5 3z" fill="#d9843e"/></svg>
<svg class="a" style="left:775.30px;top:367.10px;overflow:visible" width="7.5" height="7.5" viewBox="0 0 7.5 7.5"><circle cx="3.75" cy="3.75" r="3.7" fill="#3c9a3c"/><path d="M1.9 3.9l1.3 1.3 2.5-2.6" fill="none" stroke="#fff" stroke-width="1"/></svg>
<svg class="a" style="left:308.20px;top:394.26px;overflow:visible" width="6.2" height="6.2" viewBox="0 0 6.2 6.2"><polygon points="6.11,3.50 5.91,4.26 4.97,4.53 4.53,4.97 4.26,5.91 3.50,6.11 2.79,5.44 2.20,5.28 1.25,5.51 0.69,4.95 0.92,4.00 0.76,3.41 0.09,2.70 0.29,1.94 1.23,1.67 1.67,1.23 1.94,0.29 2.70,0.09 3.41,0.76 4.00,0.92 4.95,0.69 5.51,1.25 5.28,2.20 5.44,2.79" fill="#555"/><circle cx="3.1" cy="3.1" r="0.87" fill="#fff"/></svg>
<svg class="a" style="left:398.00px;top:402.61px;overflow:visible" width="8" height="7.2" viewBox="0 0 8 7.2"><circle cx="2.3" cy="2.4" r="1.5" fill="#5a4030"/><circle cx="2.3" cy="3" r="1" fill="#f0c090"/><path d="M0 7.2c0-2.2 1-2.8 2.3-2.8s2.3 0.6 2.3 2.8z" fill="#3e9a3e"/><circle cx="5.6" cy="1.9" r="1.6" fill="#6a3a2a"/><circle cx="5.6" cy="2.6" r="1.1" fill="#f4b8a0"/><path d="M3.2 7c0-2.4 1.1-3 2.4-3s2.4 0.6 2.4 3z" fill="#3566c8"/></svg>
<svg class="a" style="left:519.30px;top:411.37px;overflow:visible" width="5.6" height="7.3" viewBox="0 0 5.6 7.3"><rect x="0.5" y="0.6" width="4.6" height="6.3" rx="1" fill="#c8c8c8" stroke="#5a5a5a" stroke-width="0.9"/><path d="M1.6 2.6h2.4M1.6 4.1h2.4M1.6 5.5h2.4" stroke="#777" stroke-width="0.6"/></svg>
<svg class="a" style="left:636.00px;top:429.47px;overflow:visible" width="5.8" height="6.4" viewBox="0 0 5.8 6.4"><path d="M1.6 3V1.9a1.3 1.3 0 0 1 2.6 0V3" fill="none" stroke="#8a8a8a" stroke-width="0.8"/><rect x="0.4" y="2.9" width="5" height="3.5" rx="0.8" fill="#e08a3a"/></svg>
<svg class="a" style="left:713.40px;top:447.08px;overflow:visible" width="6.8" height="6.8" viewBox="0 0 6.8 6.8"><path d="M0.3 6.5L0.9 4.4 4.9 0.4 6.4 1.9 2.4 5.9z" fill="#e8843a"/><path d="M0.3 6.5L0.9 4.4 2.4 5.9z" fill="#9a5a2a"/></svg>
<svg class="a" style="left:695.20px;top:456.33px;overflow:visible" width="6" height="6" viewBox="0 0 6 6"><path d="M0.8 5.4L3.6 2.6" stroke="#555" stroke-width="1.3" stroke-linecap="round"/><path d="M3.2 2.4a1.5 1.5 0 1 1 2.2 0.6" fill="none" stroke="#555" stroke-width="1"/></svg>
<svg class="a" style="left:450.30px;top:473.54px;overflow:visible" width="7" height="7" viewBox="0 0 7 7"><circle cx="3.5" cy="3.5" r="3.4" fill="#2f7fd8"/><path d="M3.5 3v2.6" stroke="#fff" stroke-width="1"/><circle cx="3.5" cy="1.9" r="0.5" fill="#fff"/></svg>
<svg class="a" style="left:738.90px;top:500.30px;overflow:visible" width="5.6" height="6.6" viewBox="0 0 5.6 6.6"><path d="M0.1 0.5h4.6v3.3H0.1z" fill="#dc2a20"/><path d="M4.9 0.4v6" stroke="#555" stroke-width="0.8"/></svg>
<svg class="a" style="left:0;top:0;overflow:visible" width="964" height="528"><path d="M210.7 77.45h1.6q0.6 0 0.6 0.6v5.85" fill="none" stroke="#e07a2a" stroke-width="0.8"/></svg>
<svg class="a" style="left:0;top:0;overflow:visible" width="964" height="528"><path d="M206.6 85.91h-1.2q-0.9 0-0.9 0.9v1.4q0 0.9 0.9 0.9h1.2" fill="none" stroke="#d84a2a" stroke-width="1.0"/></svg>
<svg class="a" style="left:0;top:0;overflow:visible" width="964" height="528"><path d="M358.0 159.13h1.6q0.6 0 0.6 0.6v3.85" fill="none" stroke="#e07a2a" stroke-width="0.8"/></svg>
<svg class="a" style="left:0;top:0;overflow:visible" width="964" height="528"><path d="M349.1 165.58h-1.2q-0.9 0-0.9 0.9v1.4q0 0.9 0.9 0.9h1.2" fill="none" stroke="#d84a2a" stroke-width="1.0"/></svg>
<svg class="a" style="left:0;top:0;overflow:visible" width="964" height="528"><path d="M300.5 114.66h1.2v5.65" fill="none" stroke="#555" stroke-width="0.5"/></svg>
<svg class="a" style="left:0;top:0;overflow:visible" width="964" height="528"><path d="M317.1 262.97H299.4q-0.8 0-0.8 0.8" fill="none" stroke="#e0782a" stroke-width="0.8"/></svg>
<svg class="a" style="left:0;top:0;overflow:visible" width="964" height="528"><path d="M323.7 262.97h1.6q1.8 0 1.8 2.4v1.6q0 1.6-1.8 2.2" fill="none" stroke="#e0782a" stroke-width="0.8"/></svg>
<div class="a" style="left:323.6px;top:269.02px;width:1.8px;height:1.8px;border-radius:1px;background:#d33a1e"></div>
<div class="a" style="left:297.8px;top:262.17px;width:1.6px;height:1.6px;border-radius:1px;background:#d33a1e"></div>
<div class="a" style="left:151.6px;top:36px;width:0.6px;height:29.6px;background:#e6e6e6"></div>
<div class="yr" style="left:151.60px;width:403.71px">2024</div>
<div class="yr" style="left:555.31px;width:408.69px">2025</div>
<div class="mo" style="left:151.60px;width:17.74px">May</div>
<div class="mo" style="left:169.34px;width:54.11px">June</div>
<div class="a" style="left:169.34px;top:46px;width:0.7px;height:19px;background:#efefef"></div>
<div class="mo" style="left:223.45px;width:55.91px">July</div>
<div class="a" style="left:223.45px;top:46px;width:0.7px;height:19px;background:#efefef"></div>
<div class="mo" style="left:279.36px;width:55.91px">August</div>
<div class="a" style="left:279.36px;top:46px;width:0.7px;height:19px;background:#efefef"></div>
<div class="mo" style="left:335.27px;width:54.11px">September</div>
<div class="a" style="left:335.27px;top:46px;width:0.7px;height:19px;background:#efefef"></div>
<div class="mo" style="left:389.38px;width:55.91px">October</div>
<div class="a" style="left:389.38px;top:46px;width:0.7px;height:19px;background:#efefef"></div>
<div class="mo" style="left:445.29px;width:54.11px">November</div>
<div class="a" style="left:445.29px;top:46px;width:0.7px;height:19px;background:#efefef"></div>
<div class="mo" style="left:499.40px;width:55.91px">December</div>
<div class="a" style="left:499.40px;top:46px;width:0.7px;height:19px;background:#efefef"></div>
<div class="mo" style="left:555.31px;width:55.91px">January</div>
<div class="a" style="left:555.31px;top:46px;width:0.7px;height:19px;background:#efefef"></div>
<div class="mo" style="left:611.22px;width:50.50px">February</div>
<div class="a" style="left:611.22px;top:46px;width:0.7px;height:19px;background:#efefef"></div>
<div class="mo" style="left:661.72px;width:55.91px">March</div>
<div class="a" style="left:661.72px;top:46px;width:0.7px;height:19px;background:#efefef"></div>
<div class="mo" style="left:717.63px;width:54.11px">April</div>
<div class="a" style="left:717.63px;top:46px;width:0.7px;height:19px;background:#efefef"></div>
<div class="mo" style="left:771.74px;width:55.91px">May</div>
<div class="a" style="left:771.74px;top:46px;width:0.7px;height:19px;background:#efefef"></div>
<div class="mo" style="left:827.65px;width:54.11px">June</div>
<div class="a" style="left:827.65px;top:46px;width:0.7px;height:19px;background:#efefef"></div>
<div class="mo" style="left:881.75px;width:55.91px">July</div>
<div class="a" style="left:881.75px;top:46px;width:0.7px;height:19px;background:#efefef"></div>
<div class="mo" style="left:937.66px;width:26.34px">August</div>
<div class="a" style="left:937.66px;top:46px;width:0.7px;height:19px;background:#efefef"></div>
<div class="wk" style="left:151.60px;width:8.72px">21</div>
<div class="wk" style="left:160.32px;width:12.62px">22</div>
<div class="a" style="left:160.32px;top:55px;width:0.6px;height:10px;background:#f8f8f8"></div>
<div class="wk" style="left:172.95px;width:12.62px">23</div>
<div class="a" style="left:172.95px;top:55px;width:0.6px;height:10px;background:#f8f8f8"></div>
<div class="wk" style="left:185.57px;width:12.62px">24</div>
<div class="a" style="left:185.57px;top:55px;width:0.6px;height:10px;background:#f8f8f8"></div>
<div class="wk" style="left:198.20px;width:12.62px">25</div>
<div class="a" style="left:198.20px;top:55px;width:0.6px;height:10px;background:#f8f8f8"></div>
<div class="wk" style="left:210.82px;width:12.62px">26</div>
<div class="a" style="left:210.82px;top:55px;width:0.6px;height:10px;background:#f8f8f8"></div>
<div class="wk" style="left:223.45px;width:12.62px">27</div>
<div class="a" style="left:223.45px;top:55px;width:0.6px;height:10px;background:#f8f8f8"></div>
<div class="wk" style="left:236.07px;width:12.62px">28</div>
<div class="a" style="left:236.07px;top:55px;width:0.6px;height:10px;background:#f8f8f8"></div>
<div class="wk" style="left:248.70px;width:12.62px">29</div>
<div class="a" style="left:248.70px;top:55px;width:0.6px;height:10px;background:#f8f8f8"></div>
<div class="wk" style="left:261.32px;width:12.62px">30</div>
<div class="a" style="left:261.32px;top:55px;width:0.6px;height:10px;background:#f8f8f8"></div>
<div class="wk" style="left:273.95px;width:12.62px">31</div>
<div class="a" style="left:273.95px;top:55px;width:0.6px;height:10px;background:#f8f8f8"></div>
<div class="wk" style="left:286.57px;width:12.62px">32</div>
<div class="a" style="left:286.57px;top:55px;width:0.6px;height:10px;background:#f8f8f8"></div>
<div class="wk" style="left:299.20px;width:12.62px">33</div>
<div class="a" style="left:299.20px;top:55px;width:0.6px;height:10px;background:#f8f8f8"></div>
<div class="wk" style="left:311.82px;width:12.62px">34</div>
<div class="a" style="left:311.82px;top:55px;width:0.6px;height:10px;background:#f8f8f8"></div>
<div class="wk" style="left:324.45px;width:12.62px">35</div>
<div class="a" style="left:324.45px;top:55px;width:0.6px;height:10px;background:#f8f8f8"></div>
<div class="wk" style="left:337.07px;width:12.62px">36</div>
<div class="a" style="left:337.07px;top:55px;width:0.6px;height:10px;background:#f8f8f8"></div>
<div class="wk" style="left:349.70px;width:12.62px">37</div>
<div class="a" style="left:349.70px;top:55px;width:0.6px;height:10px;background:#f8f8f8"></div>
<div class="wk" style="left:362.32px;width:12.62px">38</div>
<div class="a" style="left:362.32px;top:55px;width:0.6px;height:10px;background:#f8f8f8"></div>
<div class="wk" style="left:374.95px;width:12.62px">39</div>
<div class="a" style="left:374.95px;top:55px;width:0.6px;height:10px;background:#f8f8f8"></div>
<div class="wk" style="left:387.57px;width:12.62px">40</div>
<div class="a" style="left:387.57px;top:55px;width:0.6px;height:10px;background:#f8f8f8"></div>
<div class="wk" style="left:400.20px;width:12.62px">41</div>
<div class="a" style="left:400.20px;top:55px;width:0.6px;height:10px;background:#f8f8f8"></div>
<div class="wk" style="left:412.82px;width:12.62px">42</div>
<div class="a" style="left:412.82px;top:55px;width:0.6px;height:10px;background:#f8f8f8"></div>
<div class="wk" style="left:425.45px;width:12.62px">43</div>
<div class="a" style="left:425.45px;top:55px;width:0.6px;height:10px;background:#f8f8f8"></div>
<div class="wk" style="left:438.07px;width:12.62px">44</div>
<div class="a" style="left:438.07px;top:55px;width:0.6px;height:10px;background:#f8f8f8"></div>
<div class="wk" style="left:450.70px;width:12.62px">45</div>
<div class="a" style="left:450.70px;top:55px;width:0.6px;height:10px;background:#f8f8f8"></div>
<div class="wk" style="left:463.32px;width:12.62px">46</div>
<div class="a" style="left:463.32px;top:55px;width:0.6px;height:10px;background:#f8f8f8"></div>
<div class="wk" style="left:475.95px;width:12.62px">47</div>
<div class="a" style="left:475.95px;top:55px;width:0.6px;height:10px;background:#f8f8f8"></div>
<div class="wk" style="left:488.57px;width:12.62px">48</div>
<div class="a" style="left:488.57px;top:55px;width:0.6px;height:10px;background:#f8f8f8"></div>
<div class="wk" style="left:501.20px;width:12.63px">49</div>
<div class="a" style="left:501.20px;top:55px;width:0.6px;height:10px;background:#f8f8f8"></div>
<div class="wk" style="left:513.83px;width:12.62px">50</div>
<div class="a" style="left:513.83px;top:55px;width:0.6px;height:10px;background:#f8f8f8"></div>
<div class="wk" style="left:526.45px;width:12.62px">51</div>
<div class="a" style="left:526.45px;top:55px;width:0.6px;height:10px;background:#f8f8f8"></div>
<div class="wk" style="left:539.08px;width:12.62px">52</div>
<div class="a" style="left:539.08px;top:55px;width:0.6px;height:10px;background:#f8f8f8"></div>
<div class="wk" style="left:551.70px;width:12.62px">1</div>
<div class="a" style="left:551.70px;top:55px;width:0.6px;height:10px;background:#f8f8f8"></div>
<div class="wk" style="left:564.33px;width:12.62px">2</div>
<div class="a" style="left:564.33px;top:55px;width:0.6px;height:10px;background:#f8f8f8"></div>
<div class="wk" style="left:576.95px;width:12.62px">3</div>
<div class="a" style="left:576.95px;top:55px;width:0.6px;height:10px;background:#f8f8f8"></div>
<div class="wk" style="left:589.58px;width:12.62px">4</div>
<div class="a" style="left:589.58px;top:55px;width:0.6px;height:10px;background:#f8f8f8"></div>
<div class="wk" style="left:602.20px;width:12.62px">5</div>
<div class="a" style="left:602.20px;top:55px;width:0.6px;height:10px;background:#f8f8f8"></div>
<div class="wk" style="left:614.83px;width:12.62px">6</div>
<div class="a" style="left:614.83px;top:55px;width:0.6px;height:10px;background:#f8f8f8"></div>
<div class="wk" style="left:627.45px;width:12.62px">7</div>
<div class="a" style="left:627.45px;top:55px;width:0.6px;height:10px;background:#f8f8f8"></div>
<div class="wk" style="left:640.08px;width:12.62px">8</div>
<div class="a" style="left:640.08px;top:55px;width:0.6px;height:10px;background:#f8f8f8"></div>
<div class="wk" style="left:652.70px;width:12.62px">9</div>
<div class="a" style="left:652.70px;top:55px;width:0.6px;height:10px;background:#f8f8f8"></div>
<div class="wk" style="left:665.33px;width:12.62px">10</div>
<div class="a" style="left:665.33px;top:55px;width:0.6px;height:10px;background:#f8f8f8"></div>
<div class="wk" style="left:677.95px;width:12.62px">11</div>
<div class="a" style="left:677.95px;top:55px;width:0.6px;height:10px;background:#f8f8f8"></div>
<div class="wk" style="left:690.58px;width:12.62px">12</div>
<div class="a" style="left:690.58px;top:55px;width:0.6px;height:10px;background:#f8f8f8"></div>
<div class="wk" style="left:703.20px;width:12.62px">13</div>
<div class="a" style="left:703.20px;top:55px;width:0.6px;height:10px;background:#f8f8f8"></div>
<div class="wk" style="left:715.83px;width:12.62px">14</div>
<div class="a" style="left:715.83px;top:55px;width:0.6px;height:10px;background:#f8f8f8"></div>
<div class="wk" style="left:728.45px;width:12.62px">15</div>
<div class="a" style="left:728.45px;top:55px;width:0.6px;height:10px;background:#f8f8f8"></div>
<div class="wk" style="left:741.08px;width:12.62px">16</div>
<div class="a" style="left:741.08px;top:55px;width:0.6px;height:10px;background:#f8f8f8"></div>
<div class="wk" style="left:753.70px;width:12.62px">17</div>
<div class="a" style="left:753.70px;top:55px;width:0.6px;height:10px;background:#f8f8f8"></div>
<div class="wk" style="left:766.33px;width:12.62px">18</div>
<div class="a" style="left:766.33px;top:55px;width:0.6px;height:10px;background:#f8f8f8"></div>
<div class="wk" style="left:778.95px;width:12.62px">19</div>
<div class="a" style="left:778.95px;top:55px;width:0.6px;height:10px;background:#f8f8f8"></div>
<div class="wk" style="left:791.58px;width:12.62px">20</div>
<div class="a" style="left:791.58px;top:55px;width:0.6px;height:10px;background:#f8f8f8"></div>
<div class="wk" style="left:804.20px;width:12.62px">21</div>
<div class="a" style="left:804.20px;top:55px;width:0.6px;height:10px;background:#f8f8f8"></div>
<div class="wk" style="left:816.83px;width:12.62px">22</div>
<div class="a" style="left:816.83px;top:55px;width:0.6px;height:10px;background:#f8f8f8"></div>
<div class="wk" style="left:829.45px;width:12.62px">23</div>
<div class="a" style="left:829.45px;top:55px;width:0.6px;height:10px;background:#f8f8f8"></div>
<div class="wk" style="left:842.08px;width:12.62px">24</div>
<div class="a" style="left:842.08px;top:55px;width:0.6px;height:10px;background:#f8f8f8"></div>
<div class="wk" style="left:854.70px;width:12.62px">25</div>
<div class="a" style="left:854.70px;top:55px;width:0.6px;height:10px;background:#f8f8f8"></div>
<div class="wk" style="left:867.33px;width:12.62px">26</div>
<div class="a" style="left:867.33px;top:55px;width:0.6px;height:10px;background:#f8f8f8"></div>
<div class="wk" style="left:879.95px;width:12.62px">27</div>
<div class="a" style="left:879.95px;top:55px;width:0.6px;height:10px;background:#f8f8f8"></div>
<div class="wk" style="left:892.58px;width:12.62px">28</div>
<div class="a" style="left:892.58px;top:55px;width:0.6px;height:10px;background:#f8f8f8"></div>
<div class="wk" style="left:905.20px;width:12.62px">29</div>
<div class="a" style="left:905.20px;top:55px;width:0.6px;height:10px;background:#f8f8f8"></div>
<div class="wk" style="left:917.83px;width:12.62px">30</div>
<div class="a" style="left:917.83px;top:55px;width:0.6px;height:10px;background:#f8f8f8"></div>
<div class="wk" style="left:930.45px;width:12.62px">31</div>
<div class="a" style="left:930.45px;top:55px;width:0.6px;height:10px;background:#f8f8f8"></div>
<div class="wk" style="left:943.08px;width:12.62px">32</div>
<div class="a" style="left:943.08px;top:55px;width:0.6px;height:10px;background:#f8f8f8"></div>
<div class="wk" style="left:955.70px;width:8.30px">33</div>
<div class="a" style="left:955.70px;top:55px;width:0.6px;height:10px;background:#f8f8f8"></div>
<svg class="a" style="left:154px;top:39.6px" width="6" height="7" viewBox="0 0 6 7"><path d="M3.2 1.0L1.2 3.1 3.2 5.2" fill="none" stroke="#999" stroke-width="0.9"/></svg>
<svg class="a" style="left:956.6px;top:39.6px" width="6" height="7" viewBox="0 0 6 7"><path d="M1.2 1.0L3.2 3.1 1.2 5.2" fill="none" stroke="#999" stroke-width="0.9"/></svg>
<div class="a" style="left:0;top:520.3px;width:151.6px;height:8px;background:#f3f3f1"></div>
<div class="a" style="left:299.5px;top:522px;width:504px;height:4.6px;background:#e6e6e6;border-radius:2.3px"></div>
<svg class="a" style="left:153px;top:520.5px" width="5" height="7" viewBox="0 0 5 7"><path d="M3.6 1.2L1.4 3.4 3.6 5.6z" fill="#888"/></svg>
<div class="a" style="left:957px;top:74px;width:4.4px;height:408.5px;background:#ebebeb;border-radius:2.2px"></div>
<svg class="a" style="left:956px;top:66.5px" width="7" height="5" viewBox="0 0 7 5"><path d="M0.8 3.8L3.5 1 6.2 3.8z" fill="#999"/></svg>
<svg class="a" style="left:956.5px;top:513.8px" width="7" height="5" viewBox="0 0 7 5"><path d="M0.8 1.2L3.5 4 6.2 1.2z" fill="#999"/></svg>
<svg class="a" style="left:948px;top:521.6px" width="5" height="6" viewBox="0 0 5 6"><path d="M1 0.6L4 3 1 5.4z" fill="#666"/></svg>
<div class="t" style="left:952.6px;top:520.6px;font-size:4.6px;line-height:7px;color:#aaa">363</div>
<svg class="a" style="left:0;top:518px" width="964" height="10" viewBox="0 518 964 10"><path d="M0 521.5C0.3 525 1.6 527.2 5 528H0z" fill="#3a3a3a"/><path d="M964 523.5C963.6 526 962.2 527.6 959.5 528H964z" fill="#3a3a3a"/></svg>
</body></html>
